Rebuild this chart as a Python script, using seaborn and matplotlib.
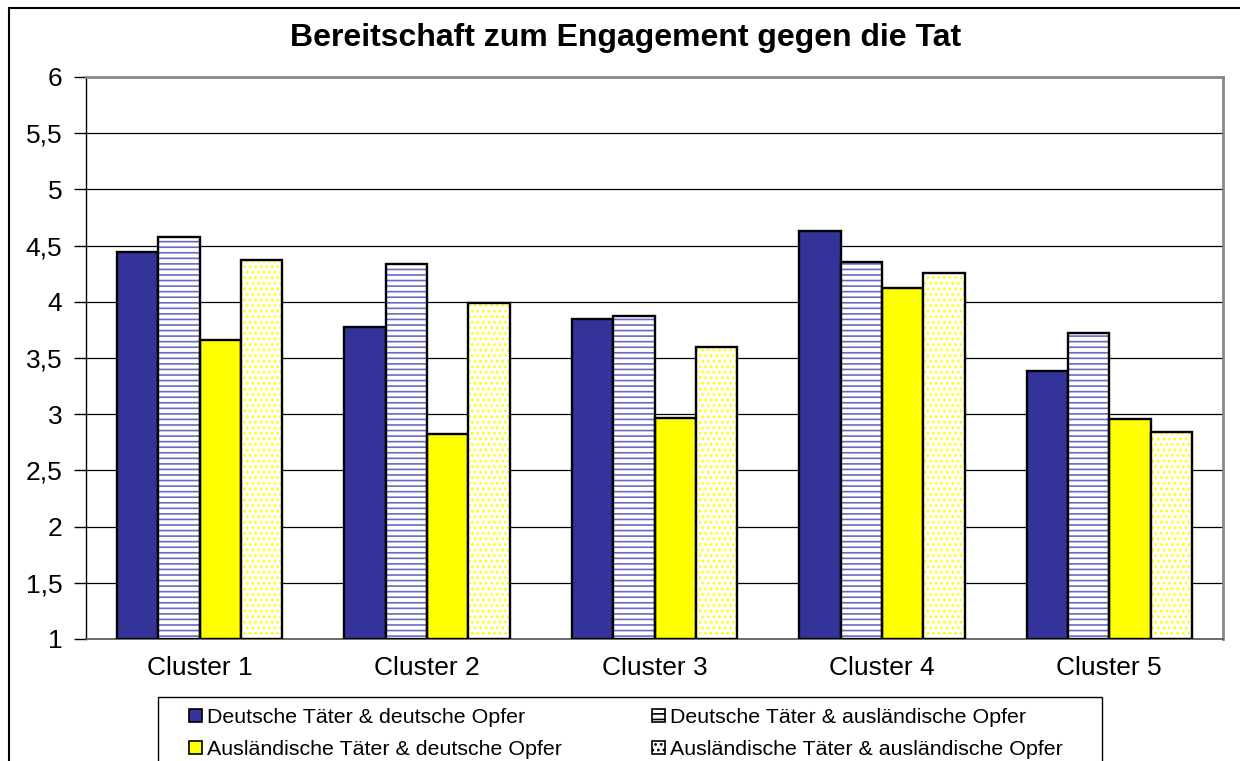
import matplotlib
matplotlib.use('Agg')
import matplotlib.pyplot as plt
from matplotlib.patches import Patch, Rectangle
import numpy as np
import pandas as pd
import seaborn as sns

clusters = ['Cluster 1', 'Cluster 2', 'Cluster 3', 'Cluster 4', 'Cluster 5']
groups = ['Deutsche Täter & deutsche Opfer',
          'Deutsche Täter & ausländische Opfer',
          'Ausländische Täter & deutsche Opfer',
          'Ausländische Täter & ausländische Opfer']
dt_do = [4.44, 3.78, 3.85, 4.63, 3.38]
dt_ao = [4.58, 4.34, 3.87, 4.35, 3.72]
at_do = [3.66, 2.82, 2.97, 4.12, 2.96]
at_ao = [4.37, 3.99, 3.60, 4.26, 2.84]
y_ticks = [1, 1.5, 2, 2.5, 3, 3.5, 4, 4.5, 5, 5.5, 6]
y_labels = ['1', '1,5', '2', '2,5', '3', '3,5', '4', '4,5', '5', '5,5', '6']

df = pd.DataFrame({
    'cluster': clusters * 4,
    'group': np.repeat(groups, len(clusters)),
    'value': dt_do + dt_ao + at_do + at_ao,
})

sns.set_style('white')
plt.rcParams['font.family'] = ['Liberation Sans', 'DejaVu Sans']
plt.rcParams['hatch.linewidth'] = 1.2
plt.rcParams['text.color'] = 'black'
plt.rcParams['xtick.color'] = 'black'
plt.rcParams['ytick.color'] = 'black'

face = ['#333399', '#ffffff', '#ffff00', '#ffffff']
hatch = [None, '---', None, '...']
hatch_col = [None, '#6a6ac4', None, '#ffff00']

fig = plt.figure(figsize=(12.4, 7.61), dpi=100)
ax = fig.add_axes([86 / 1240, 1 - 639 / 761, (1223 - 86) / 1240, (639 - 77) / 761])

sns.barplot(data=df, x='cluster', y='value', hue='group', order=clusters,
            hue_order=groups, palette=face, width=0.727, gap=0,
            saturation=1, legend=False, ax=ax, zorder=3)

# bars start at 1, the bottom of the value axis
for i, cont in enumerate(ax.containers):
    for bar in cont:
        h = bar.get_height()
        bar.set_y(1)
        bar.set_height(h - 1)
        if hatch[i]:
            bar.set_hatch(hatch[i])
            bar.set_edgecolor(hatch_col[i])
            bar.set_linewidth(0)
            ax.add_patch(Rectangle((bar.get_x(), 1), bar.get_width(), h - 1,
                                   fill=False, edgecolor='black', lw=1.7, zorder=4))
        else:
            bar.set_edgecolor('black')
            bar.set_linewidth(1.7)

ax.set_xlim(-0.5, 4.5)
ax.set_ylim(1, 6)
ax.set_yticks(y_ticks)
ax.set_yticklabels(y_labels, fontsize=19)
ax.set_xticks(range(len(clusters)))
ax.set_xticklabels(clusters, fontsize=19)
ax.set_xticks(np.arange(-0.5, 5, 1), minor=True)
ax.tick_params(axis='x', which='major', length=0, pad=12)
ax.tick_params(axis='x', which='minor', length=7, color='#555555', width=1, direction='out')
ax.tick_params(axis='y', length=9, width=1, color='black', direction='out', left=True, pad=8)
ax.set_xlabel('')
ax.set_ylabel('')
ax.grid(axis='y', color='black', lw=0.9, zorder=0)
ax.set_axisbelow(True)
for s in ['top', 'right']:
    ax.spines[s].set_color('#888888')
    ax.spines[s].set_linewidth(2)
ax.spines['left'].set_color('black')
ax.spines['left'].set_linewidth(1)
ax.spines['bottom'].set_color('#555555')
ax.spines['bottom'].set_linewidth(1.2)

fig.text(626 / 1240, 1 - 38 / 761, 'Bereitschaft zum Engagement gegen die Tat',
         ha='center', va='center', fontsize=23, fontweight='bold')

# legend without its own frame; the frame is drawn below and runs off the page
order = [0, 2, 1, 3]  # legend fills by column; reference reads row by row
handles = [Patch(facecolor=face[i], hatch=hatch[i], edgecolor='black', lw=1.2)
           for i in order]
fig.legend(handles, [groups[i] for i in order], ncol=2, loc='upper left',
           bbox_to_anchor=(189 / 1240, 1 - 708 / 761), fontsize=15.4,
           frameon=False, handlelength=0.6, handleheight=0.6,
           handletextpad=0.25, borderpad=0, labelspacing=0.6,
           columnspacing=4.2, borderaxespad=0)
fig.add_artist(Rectangle((158 / 1240, -0.05), (1102 - 158) / 1240,
                         0.05 + 1 - 697 / 761, fill=False, edgecolor='black',
                         lw=1, transform=fig.transFigure))

fig.add_artist(Rectangle((9 / 1240, -0.1), 1.2, 1 - 8 / 761 + 0.1, fill=False,
                         edgecolor='black', lw=1.5, transform=fig.transFigure))

fig.savefig('out.png', dpi=100)
